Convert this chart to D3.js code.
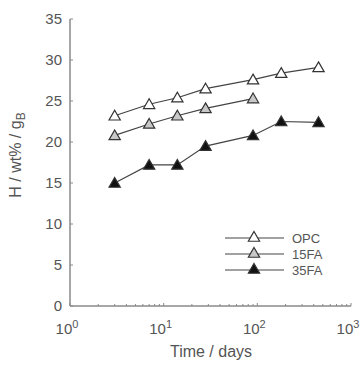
<!DOCTYPE html>
<html><head><meta charset="utf-8">
<script src="https://cdn.jsdelivr.net/npm/d3@7"></script>
<style>body{margin:0;background:#fff}svg{display:block}text{font-family:"Liberation Sans",Arial,sans-serif}</style>
</head><body><svg id="c" width="362" height="368"></svg>
<script>
const days = [3, 7, 14, 28, 90, 180, 450];
const opc = [23.2, 24.6, 25.4, 26.5, 27.6, 28.4, 29.1];
const fa15Days = [3, 7, 14, 28, 90];
const fa15 = [20.8, 22.2, 23.2, 24.1, 25.3];
const fa35 = [15.0, 17.2, 17.2, 19.5, 20.8, 22.5, 22.4];
const seriesNames = ["OPC", "15FA", "35FA"];
const yTicks = [0, 5, 10, 15, 20, 25, 30, 35];
const xTickExps = [0, 1, 2, 3];

const svg = d3.select("#c");
const x = d3.scaleLog().domain([1, 1000]).range([70, 351]);
const y = d3.scaleLinear().domain([0, 35]).range([306, 19]);
const axisCol = "#8a8a8a", textCol = "#555";

svg.append("line").attr("x1", 70).attr("x2", 70).attr("y1", y(35)).attr("y2", y(0)).attr("stroke", axisCol).attr("stroke-width", 1.5);
svg.append("line").attr("x1", 70).attr("x2", x(1000)).attr("y1", y(0)).attr("y2", y(0)).attr("stroke", axisCol).attr("stroke-width", 1.5);

yTicks.forEach(v => {
  svg.append("line").attr("x1", 70).attr("x2", 73).attr("y1", y(v)).attr("y2", y(v)).attr("stroke", axisCol);
  svg.append("text").attr("x", 62).attr("y", y(v) + 5).attr("text-anchor", "end").attr("font-size", 15).attr("fill", textCol).text(v);
});
for (let e = 0; e < 3; e++) {
  for (let m = 2; m <= 9; m++) {
    const v = m * Math.pow(10, e);
    svg.append("line").attr("x1", x(v)).attr("x2", x(v)).attr("y1", y(0)).attr("y2", y(0) - 2).attr("stroke", axisCol);
  }
}
xTickExps.forEach(e => {
  const v = Math.pow(10, e);
  svg.append("line").attr("x1", x(v)).attr("x2", x(v)).attr("y1", y(0)).attr("y2", y(0) - 3).attr("stroke", axisCol);
  const t = svg.append("text").attr("x", x(v) - 3).attr("y", 334).attr("text-anchor", "middle").attr("font-size", 15).attr("fill", textCol);
  t.append("tspan").text("10");
  t.append("tspan").attr("dy", -6).attr("font-size", 11).text(e);
});

svg.append("text").attr("x", 211).attr("y", 357).attr("text-anchor", "middle").attr("font-size", 16).attr("fill", textCol).text("Time / days");
const yl = svg.append("text").attr("transform", "translate(21,155) rotate(-90)").attr("text-anchor", "middle").attr("font-size", 16).attr("fill", textCol);
yl.append("tspan").text("H / wt% / g");
yl.append("tspan").attr("dy", 4).attr("font-size", 12).text("B");

const tri = d3.symbol().type(d3.symbolTriangle).size(55);
const series = [
  {name: seriesNames[0], xs: days, ys: opc, fill: "#fff"},
  {name: seriesNames[1], xs: fa15Days, ys: fa15, fill: "#c8c8c8"},
  {name: seriesNames[2], xs: days, ys: fa35, fill: "#111"}
];
const line = d3.line().x(d => x(d[0])).y(d => y(d[1]));
series.forEach(s => {
  const pts = s.xs.map((d, i) => [d, s.ys[i]]);
  svg.append("path").attr("d", line(pts)).attr("fill", "none").attr("stroke", "#444").attr("stroke-width", 1.2);
  svg.selectAll(null).data(pts).enter().append("path").attr("d", tri)
    .attr("transform", d => `translate(${x(d[0])},${y(d[1]) + 1})`)
    .attr("fill", s.fill).attr("stroke", "#333").attr("stroke-width", 1.2);
});

series.forEach((s, i) => {
  const ly = 238 + i * 16;
  svg.append("line").attr("x1", 225).attr("x2", 284).attr("y1", ly).attr("y2", ly).attr("stroke", "#444").attr("stroke-width", 1.2);
  svg.append("path").attr("d", tri).attr("transform", `translate(254,${ly})`).attr("fill", s.fill).attr("stroke", "#333").attr("stroke-width", 1.2);
  svg.append("text").attr("x", 292).attr("y", ly + 4.5).attr("font-size", 13).attr("fill", textCol).text(s.name);
});
</script></body></html>
